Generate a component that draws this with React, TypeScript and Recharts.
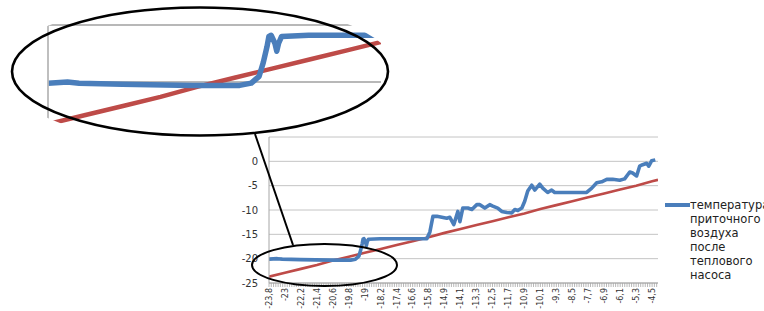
import React from 'react';
import { LineChart, Line, CartesianGrid, XAxis, YAxis, ReferenceLine } from 'recharts';

// x positions are in "label slots": 0 = first axis label (-23,8), 24 = last (-4,5)
const xLabels = [
  '-23,8', '-23', '-22,2', '-21,4', '-20,6', '-19,8', '-19', '-18,2', '-17,4', '-16,6', '-15,8', '-14,9',
  '-14,1', '-13,3', '-12,5', '-11,7', '-10,9', '-10,1', '-9,3', '-8,5', '-7,7', '-6,9', '-6,1', '-5,3', '-4,5',
];
const yTicks = [-25, -20, -15, -10, -5, 0, 5];
const insetTicks = [-20, -15];

// supply air after the heat pump
const bluePos = [
  0, 0.52, 0.83, 1.98, 3.86, 5.11, 5.42, 5.63, 5.74, 5.84, 5.89, 5.95, 6.05, 6.1, 6.15, 6.23, 6.95, 8.2,
  9.89, 10.08, 10.27, 10.52, 11.14, 11.33, 11.58, 11.83, 11.96, 12.14, 12.46, 12.71, 13.02, 13.21, 13.52,
  13.83, 14.02, 14.33, 14.58, 14.9, 15.21, 15.4, 15.59, 15.84, 16.02, 16.21, 16.46, 16.65, 16.96, 17.15,
  17.46, 17.71, 17.9, 18.84, 19.9, 20.22, 20.53, 20.84, 21.16, 21.53, 21.97, 22.28, 22.6, 22.78, 23.03,
  23.22, 23.41, 23.66, 23.79, 23.97, 24.2,
];
const blueTemp = [
  -20.1, -20.0, -20.1, -20.2, -20.3, -20.3, -20.1, -19.5, -18.3, -16.9, -16.0, -15.9, -16.6, -17.3, -16.6,
  -16.0, -15.9, -15.9, -15.9, -14.5, -11.3, -11.3, -11.7, -11.5, -13.0, -10.3, -12.4, -9.6, -9.6, -9.9,
  -8.9, -8.9, -9.6, -8.9, -9.2, -9.6, -10.3, -10.5, -10.6, -9.9, -10.1, -9.6, -8.2, -6.1, -4.9, -5.9, -4.7,
  -5.5, -6.4, -5.9, -6.4, -6.4, -6.4, -5.5, -4.4, -4.2, -3.7, -3.7, -3.9, -3.6, -2.2, -2.4, -3.0, -1.0,
  -0.7, -0.4, -1.0, 0.1, 0.3,
];

// outdoor air (red line)
const redPos = [
  0, 1, 2, 3, 4, 5, 6, 7, 8, 9, 10, 11, 12, 13, 14, 15, 16, 17, 18, 19, 20, 21, 22, 23, 24, 24.37,
];
const redTemp = [
  -23.7, -22.9, -22.1, -21.3, -20.4, -19.6, -18.8, -18.0, -17.2, -16.4, -15.6, -14.7, -13.9, -13.1, -12.3,
  -11.5, -10.7, -9.8, -9.0, -8.2, -7.4, -6.6, -5.8, -5.0, -4.1, -3.8,
];

const legendLines = ['температура', 'приточного', 'воздуха', 'после', 'теплового', 'насоса'];

const blueData = bluePos.map((x, i) => ({ x, v: blueTemp[i] }));
const redData = redPos.map((x, i) => ({ x, v: redTemp[i] }));

const STEPS = 7;
const X_MAX = 24.37;
const minorTicks = Array.from({ length: 171 }, (_, k) => k / STEPS);

const BLUE = '#4a7ebb';
const RED = '#be4b48';
const GRID = '#c4c4c4';
const FONT = 'DejaVu Sans';

const XTick = (props: any) => {
  const { x, y, payload } = props;
  const k = Math.round(payload.value * STEPS);
  const label = k % STEPS === 0 ? xLabels[k / STEPS] : null;
  return (
    <g>
      <line x1={x} y1={y} x2={x} y2={y + 4} stroke="#a6a6a6" strokeWidth={0.8} />
      {label && (
        <text
          transform={`translate(${x},${y + 5}) rotate(-90)`}
          textAnchor="end"
          dy="0.35em"
          fontSize={8}
          fontFamily={FONT}
          fill="#333"
        >
          {label}
        </text>
      )}
    </g>
  );
};

const MainChart = () => (
  <LineChart width={764} height={311} margin={{ top: 137, right: 106, left: 209, bottom: 0 }}>
    <CartesianGrid vertical={false} stroke={GRID} />
    <XAxis
      dataKey="x"
      type="number"
      domain={[0, X_MAX]}
      ticks={minorTicks}
      interval={0}
      tick={<XTick />}
      tickLine={false}
      tickSize={0}
      tickMargin={0}
      height={28}
      stroke="#a6a6a6"
      allowDataOverflow
    />
    <YAxis
      type="number"
      domain={[-25, 5]}
      ticks={yTicks}
      interval={0}
      width={60}
      tickLine={false}
      tickSize={0}
      tickMargin={11}
      tickFormatter={(v: number) => (v > 0 ? '' : String(v))}
      tick={{ fontSize: 10, fontFamily: FONT, fill: '#333' }}
      stroke="#a6a6a6"
    />
    <Line data={redData} dataKey="v" stroke={RED} strokeWidth={2.6} dot={false} isAnimationActive={false} />
    <Line
      data={blueData}
      dataKey="v"
      stroke={BLUE}
      strokeWidth={3.6}
      strokeLinejoin="round"
      dot={false}
      isAnimationActive={false}
    />
  </LineChart>
);

// magnified view of the lower-left corner, clipped to an ellipse
const InsetChart = () => (
  <div
    style={{
      position: 'absolute',
      left: 0,
      top: 0,
      width: 400,
      height: 145,
      clipPath: 'ellipse(198px 72px at 200px 72px)',
    }}
  >
    <LineChart width={400} height={145} margin={{ top: 25, right: 19, left: 42, bottom: 6 }}>
      <XAxis dataKey="x" type="number" domain={[0, 8.88]} hide allowDataOverflow />
      <YAxis
        type="number"
        domain={[-25, -15]}
        ticks={insetTicks}
        width={6}
        tick={false}
        tickSize={6}
        tickLine={{ stroke: '#b8b8b8', strokeWidth: 1.8 }}
        axisLine={{ stroke: '#b8b8b8', strokeWidth: 1.8 }}
        allowDataOverflow
      />
      {insetTicks.map((t) => (
        <ReferenceLine key={t} y={t} stroke="#b8b8b8" strokeWidth={1.8} />
      ))}
      <Line data={redData} dataKey="v" stroke={RED} strokeWidth={4.5} dot={false} isAnimationActive={false} />
      <Line
        data={blueData}
        dataKey="v"
        stroke={BLUE}
        strokeWidth={5.5}
        strokeLinejoin="round"
        dot={false}
        isAnimationActive={false}
      />
    </LineChart>
  </div>
);

const Callout = () => (
  <svg width={764} height={311} style={{ position: 'absolute', left: 0, top: 0, pointerEvents: 'none' }}>
    <ellipse cx={200} cy={71.5} rx={188} ry={64} fill="none" stroke="#000" strokeWidth={2.6} />
    <line x1={255} y1={134} x2={293} y2={245} stroke="#000" strokeWidth={2} />
    <ellipse cx={324.5} cy={265} rx={72.5} ry={21} fill="none" stroke="#000" strokeWidth={2} />
  </svg>
);

const Legend = () => (
  <div style={{ position: 'absolute', left: 665, top: 198, fontFamily: FONT, fontSize: 11.5, color: '#222' }}>
    <svg width={25} height={14} style={{ position: 'absolute', left: 0, top: 0 }}>
      <line x1={0} y1={7} x2={25} y2={7} stroke={BLUE} strokeWidth={4} />
    </svg>
    <div style={{ position: 'absolute', left: 25, top: 0, lineHeight: '14px', whiteSpace: 'nowrap' }}>
      {legendLines.map((t) => (
        <div key={t}>{t}</div>
      ))}
    </div>
  </div>
);

export default function App() {
  return (
    <div
      style={{
        position: 'absolute',
        left: 0,
        top: 0,
        width: 764,
        height: 311,
        overflow: 'hidden',
        background: '#fff',
      }}
    >
      <MainChart />
      <InsetChart />
      <Callout />
      <Legend />
    </div>
  );
}
